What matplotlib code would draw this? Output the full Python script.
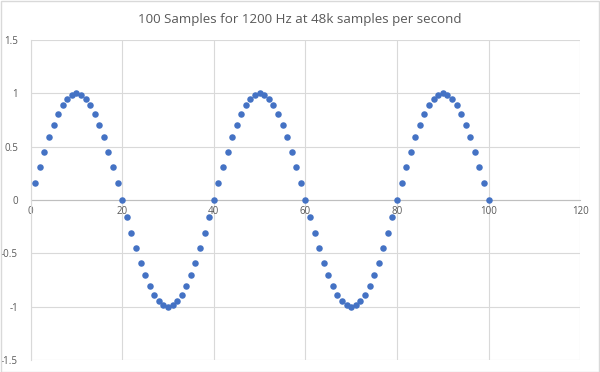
import matplotlib.pyplot as plt
from matplotlib.patches import Rectangle

# sample index and amplitude
sample = list(range(1, 101))
amplitude = [
    0.156, 0.309, 0.454, 0.588, 0.707, 0.809, 0.891, 0.951, 0.988, 1.0,
    0.988, 0.951, 0.891, 0.809, 0.707, 0.588, 0.454, 0.309, 0.156, 0.0,
    -0.156, -0.309, -0.454, -0.588, -0.707, -0.809, -0.891, -0.951, -0.988, -1.0,
    -0.988, -0.951, -0.891, -0.809, -0.707, -0.588, -0.454, -0.309, -0.156, 0.0,
    0.156, 0.309, 0.454, 0.588, 0.707, 0.809, 0.891, 0.951, 0.988, 1.0,
    0.988, 0.951, 0.891, 0.809, 0.707, 0.588, 0.454, 0.309, 0.156, 0.0,
    -0.156, -0.309, -0.454, -0.588, -0.707, -0.809, -0.891, -0.951, -0.988, -1.0,
    -0.988, -0.951, -0.891, -0.809, -0.707, -0.588, -0.454, -0.309, -0.156, 0.0,
    0.156, 0.309, 0.454, 0.588, 0.707, 0.809, 0.891, 0.951, 0.988, 1.0,
    0.988, 0.951, 0.891, 0.809, 0.707, 0.588, 0.454, 0.309, 0.156, 0.0,
]
xticks = [0, 20, 40, 60, 80, 100, 120]
yticks = [-1.5, -1, -0.5, 0, 0.5, 1, 1.5]
ylabels = ['-1.5', '-1', '-0.5', '0', '0.5', '1', '1.5']

plt.rcParams['font.family'] = ['Open Sans', 'DejaVu Sans']
txt = '#595959'

fig = plt.figure(figsize=(6, 3.72), dpi=100)
ax = fig.add_axes([0.051, 0.0323, 0.916, 0.860])

ax.scatter(sample, amplitude, s=22, color='#4472C4', zorder=3, clip_on=False, linewidths=0)

ax.set_xlim(0, 120)
ax.set_ylim(-1.5, 1.5)
ax.set_xticks(xticks)
ax.set_yticks(yticks)
ax.set_yticklabels(ylabels)
ax.grid(True, color='#d9d9d9', linewidth=0.8)
ax.set_axisbelow(True)

for s in ['top', 'right']:
    ax.spines[s].set_visible(False)
ax.spines['left'].set_color('#d9d9d9')
ax.spines['bottom'].set_position(('data', 0))
ax.spines['bottom'].set_color('#bfbfbf')
ax.spines['bottom'].set_zorder(2)
ax.tick_params(length=0, labelsize=7, labelcolor=txt)
ax.tick_params(axis='x', pad=4)
ax.tick_params(axis='y', pad=9)

fig.suptitle('100 Samples for 1200 Hz at 48k samples per second', y=0.965,
             fontsize=9.6, color=txt)

fig.patches.append(Rectangle((0.001, 0.001), 0.997, 0.996, transform=fig.transFigure,
                             fill=False, edgecolor='#d9d9d9', linewidth=1))

fig.savefig('out.png', dpi=100)
